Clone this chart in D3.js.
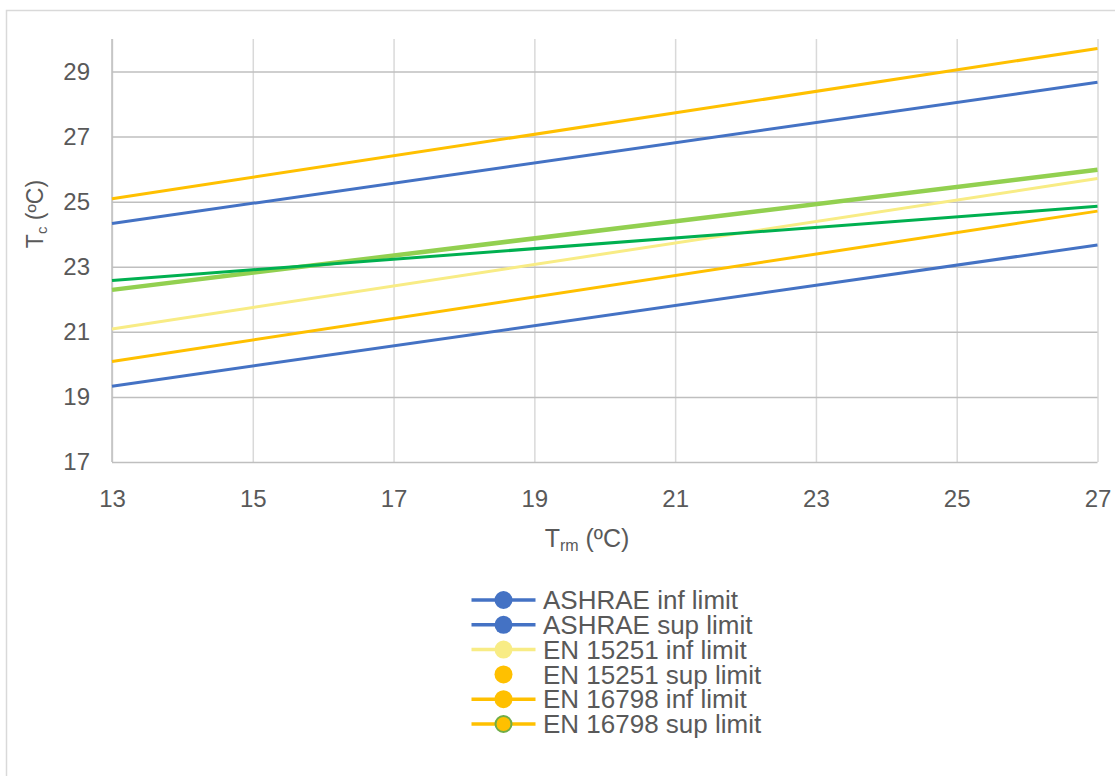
<!DOCTYPE html>
<html>
<head>
<meta charset="utf-8">
<script src="https://cdn.jsdelivr.net/npm/d3@7"></script>
<style>
  html, body { margin: 0; padding: 0; background: #fff; }
  svg { display: block; }
  text { font-family: "Liberation Sans", Arial, sans-serif; fill: #595959; }
</style>
</head>
<body>
<svg id="chart" width="1115" height="776"></svg>
<script>
// ---- Data ----
const trm = [13, 27];
const ashraeInf = [19.33, 23.67];
const ashraeSup = [24.33, 28.67];
const en15251Inf = [21.09, 25.71];
const en16798Inf = [20.09, 24.71];
const en16798Sup = [25.09, 29.71];
const lightGreenLine = [22.29, 25.98];
const darkGreenLine = [22.58, 24.86];

const xTicks = [13, 15, 17, 19, 21, 23, 25, 27];
const yTicks = [17, 19, 21, 23, 25, 27, 29];

const legendNames = ["ASHRAE inf limit", "ASHRAE sup limit", "EN 15251 inf limit",
                     "EN 15251 sup limit", "EN 16798 inf limit", "EN 16798 sup limit"];

// ---- Styles ----
const seriesDefs = [
  { values: ashraeInf, color: "#4472C4", width: 3 },
  { values: ashraeSup, color: "#4472C4", width: 3 },
  { values: en15251Inf, color: "#F8EC85", width: 3 },
  { values: en16798Inf, color: "#FFC000", width: 3 },
  { values: en16798Sup, color: "#FFC000", width: 3 },
  { values: lightGreenLine, color: "#92D050", width: 4.5 },
  { values: darkGreenLine, color: "#00B050", width: 3 }
];
const legendStyles = [
  { line: "#4472C4", fill: "#4472C4", stroke: "#4472C4" },
  { line: "#4472C4", fill: "#4472C4", stroke: "#4472C4" },
  { line: "#F8EC85", fill: "#F8EC85", stroke: "#F8EC85" },
  { line: null, fill: "#FFC000", stroke: "#FFC000" },
  { line: "#FFC000", fill: "#FFC000", stroke: "#FFC000" },
  { line: "#FFC000", fill: "#FFC000", stroke: "#70AD47" }
];

const svg = d3.select("#chart");

// chart frame (cropped)
svg.append("rect")
  .attr("x", 6.5).attr("y", 10.5).attr("width", 1300).attr("height", 1000)
  .attr("fill", "none").attr("stroke", "#D9D9D9").attr("stroke-width", 1.5);

const pLeft = 112, pRight = 1097.5, pTop = 39, pBottom = 462;
const x = d3.scaleLinear().domain([13, 27]).range([pLeft, pRight]);
const y = d3.scaleLinear().domain([17, 30]).range([pBottom, pTop]);

// vertical gridlines
const xGrid = svg.append("g").attr("transform", `translate(0,${pBottom})`)
  .call(d3.axisBottom(x).tickValues(xTicks).tickSize(-(pBottom - pTop)).tickFormat(""));
xGrid.select(".domain").remove();
xGrid.selectAll("line").attr("stroke", "#D9D9D9").attr("stroke-width", 1.5);

// horizontal gridlines
const yGrid = svg.append("g").attr("transform", `translate(${pLeft},0)`)
  .call(d3.axisLeft(y).tickValues(yTicks).tickSize(-(pRight - pLeft)).tickFormat(""));
yGrid.select(".domain").remove();
yGrid.selectAll("line").attr("stroke", "#BFBFBF").attr("stroke-width", 1.5);

// left axis line
svg.append("line").attr("x1", pLeft).attr("x2", pLeft).attr("y1", pTop).attr("y2", pBottom)
  .attr("stroke", "#BFBFBF").attr("stroke-width", 1.5);

// tick labels
const xAxis = svg.append("g").attr("transform", `translate(0,${pBottom})`)
  .call(d3.axisBottom(x).tickValues(xTicks).tickSize(0).tickPadding(28));
xAxis.select(".domain").remove();
xAxis.selectAll("text").attr("font-size", 24).style("font-family", "Liberation Sans, Arial, sans-serif").attr("fill", "#595959");

const yAxis = svg.append("g").attr("transform", `translate(${pLeft},0)`)
  .call(d3.axisLeft(y).tickValues(yTicks).tickSize(0).tickPadding(22));
yAxis.select(".domain").remove();
yAxis.selectAll("text").attr("font-size", 24).style("font-family", "Liberation Sans, Arial, sans-serif").attr("fill", "#595959");

// lines
const line = d3.line().x((d, i) => x(trm[i])).y(d => y(d));
seriesDefs.forEach(s => {
  svg.append("path").datum(s.values)
    .attr("d", line)
    .attr("fill", "none")
    .attr("stroke", s.color)
    .attr("stroke-width", s.width)
    .attr("stroke-linecap", "butt");
});

// axis titles
const xt = svg.append("text").attr("x", 587).attr("y", 547).attr("text-anchor", "middle").attr("font-size", 25);
xt.append("tspan").text("T");
xt.append("tspan").attr("font-size", 16).attr("dy", 4).text("rm");
xt.append("tspan").attr("dy", -4).text(" (ºC)");

const yt = svg.append("text").attr("transform", "translate(43,214) rotate(-90)").attr("text-anchor", "middle").attr("font-size", 23);
yt.append("tspan").text("T");
yt.append("tspan").attr("font-size", 15).attr("dy", 4).text("c");
yt.append("tspan").attr("dy", -4).text(" (ºC)");

// legend
const leg = svg.append("g");
legendNames.forEach((name, i) => {
  const cy = 600 + i * 24.8;
  const st = legendStyles[i];
  if (st.line) {
    leg.append("line").attr("x1", 471.5).attr("x2", 535.5).attr("y1", cy).attr("y2", cy)
      .attr("stroke", st.line).attr("stroke-width", 3.5);
  }
  leg.append("circle").attr("cx", 503.5).attr("cy", cy).attr("r", st.stroke !== st.fill ? 8 : 9)
    .attr("fill", st.fill).attr("stroke", st.stroke).attr("stroke-width", st.stroke !== st.fill ? 2 : 0);
  leg.append("text").attr("x", 543).attr("y", cy).attr("dy", "0.35em").attr("font-size", 26).text(name);
});
</script>
</body>
</html>
